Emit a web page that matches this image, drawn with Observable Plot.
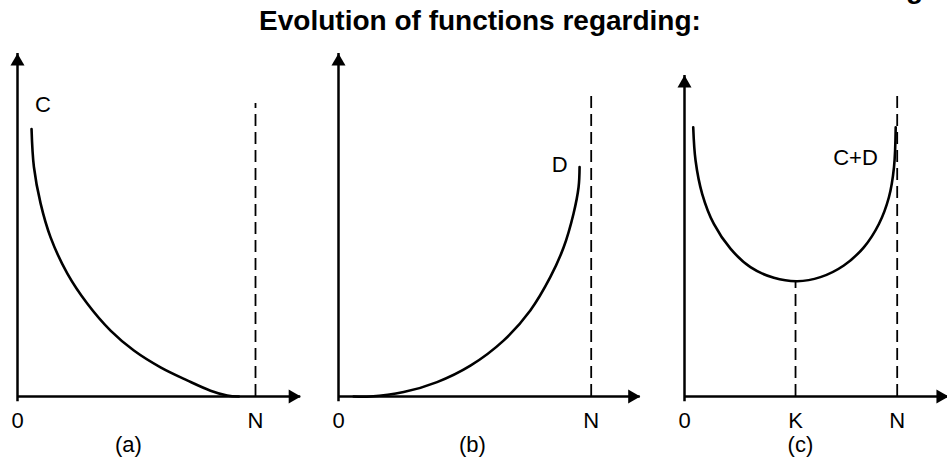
<!DOCTYPE html>
<html>
<head>
<meta charset="utf-8">
<script src="https://cdn.jsdelivr.net/npm/d3@7"></script>
<script src="https://cdn.jsdelivr.net/npm/@observablehq/plot@0.6"></script>
<style>
  body { margin: 0; background: #fff; }
  #wrap { position: relative; width: 947px; height: 457px; overflow: hidden; font-family: "Liberation Sans", Arial, sans-serif; color: #000; }
  .title { position: absolute; left: 0; width: 960px; top: 7px; text-align: center; font-weight: bold; font-size: 28px; line-height: 28px; white-space: nowrap; }
  .frag { position: absolute; left: 906px; top: -25px; font-weight: bold; font-size: 28px; line-height: 28px; }
  .panel { position: absolute; top: 40px; }
  .panel svg { overflow: visible; background: transparent; }
</style>
</head>
<body>
<div id="wrap">
  <div class="title">Evolution of functions regarding:</div>
  <div class="frag">g</div>
</div>
<script>
// ---- Data ----
const captions = ["(a)", "(b)", "(c)"];
const captionX = [4.66, 5.3, 5.45];

// x-axis tick labels per panel
const ticksA = [0, 10], tickLabelsA = ["0", "N"];
const ticksB = [0, 10], tickLabelsB = ["0", "N"];
const ticksC = [0, 5.22, 10], tickLabelsC = ["0", "K", "N"];

// Curve C (panel a)
const cX = [0.59, 0.69, 0.97, 1.39, 2.09, 2.93, 3.91, 4.89, 6.01, 7.13, 8.11, 8.81, 9.30];
const cY = [7.80, 6.69, 5.63, 4.64, 3.59, 2.71, 1.92, 1.34, 0.85, 0.47, 0.17, 0.03, 0.0];
// Curve D (panel b)
const dX = [0.60, 1.26, 2.58, 3.90, 5.22, 6.53, 7.59, 8.38, 8.91, 9.30, 9.50, 9.54];
const dY = [0.0, 0.0, 0.13, 0.42, 0.90, 1.63, 2.51, 3.48, 4.35, 5.33, 6.10, 6.69];
// Curve C+D (panel c)
const cdX = [0.41, 0.52, 0.83, 1.38, 2.16, 3.10, 4.20, 5.30, 6.39, 7.49, 8.43, 9.14, 9.61, 9.85, 9.93];
const cdY = [7.85, 6.88, 5.91, 5.03, 4.31, 3.77, 3.46, 3.36, 3.48, 3.82, 4.35, 5.03, 5.81, 6.69, 7.85];

// Curve labels
const curveLabels = ["C", "D", "C+D"];
const curveLabelX = [1.07, 8.75, 8.04];
const curveLabelY = [8.51, 6.76, 6.96];

// Dashed guide lines: [x, top]
const dashA = [[10, 8.54]];
const dashB = [[10, 8.82]];
const dashC = [[5.22, 3.36], [10, 8.92]];

// Axis extents (x tip, y tip)
const axisA = [11.9, 10];
const axisB = [11.94, 10];
const axisC = [12.41, 9.36];

// ---- Layout ----
const FONT = '"Liberation Sans", Arial, sans-serif';
const H = 417;
const FS = 22;

function zip(xs, ys) { return xs.map((x, i) => ({x, y: ys[i]})); }

function panel(cfg) {
  const tickMap = new Map(cfg.ticks.map((t, i) => [t, cfg.tickLabels[i]]));
  const [xTip, yTip] = cfg.axis;
  const chart = Plot.plot({
    width: cfg.width, height: H,
    marginTop: 13, marginBottom: 61,
    marginLeft: cfg.marginLeft, marginRight: cfg.marginRight,
    x: {domain: [0, 10]},
    y: {domain: [0, 10], axis: null},
    style: {fontFamily: FONT, fontSize: FS + "px", overflow: "visible", background: "transparent"},
    marks: [
      // axes lines
      Plot.ruleY([{y: 0, x1: 0, x2: xTip}], {y: "y", x1: "x1", x2: "x2", stroke: "black", strokeWidth: 2.5}),
      Plot.ruleX([{x: 0, y1: -0.15, y2: yTip}], {x: "x", y1: "y1", y2: "y2", stroke: "black", strokeWidth: 2.5}),
      // arrowheads
      Plot.dot([{x: 0, y: yTip}], {x: "x", y: "y", symbol: "triangle", r: 5.2, fill: "black", stroke: null, dy: 8}),
      Plot.dot([{x: xTip, y: 0}], {x: "x", y: "y", symbol: "triangle", r: 5.2, fill: "black", stroke: null, rotate: 90, dx: -8}),
      // dashed guides
      Plot.ruleX(cfg.dash.map(([x, top]) => ({x, top})), {x: "x", y1: 0, y2: "top", stroke: "black", strokeWidth: 1.8, strokeDasharray: "12,6"}),
      // curve
      Plot.line(cfg.curve, {x: "x", y: "y", curve: "catmull-rom", stroke: "black", strokeWidth: 2.6}),
      // curve label
      Plot.text([cfg.label], {x: "x", y: "y", text: "t", fontSize: FS, fill: "black"}),
      // caption
      Plot.text([cfg.caption], {x: "x", y: "y", text: "t", fontSize: FS, fill: "black"}),
      // x tick labels
      Plot.axisX({ticks: cfg.ticks, tickFormat: d => tickMap.get(d), tickSize: 0, tickPadding: 15.4, fontSize: FS, fill: "black"})
    ]
  });
  const div = document.createElement("div");
  div.className = "panel";
  div.style.left = cfg.left + "px";
  div.appendChild(chart);
  document.getElementById("wrap").appendChild(div);
}

panel({
  left: 0, width: 320, marginLeft: 17, marginRight: 65,
  ticks: ticksA, tickLabels: tickLabelsA, axis: axisA,
  curve: zip(cX, cY), dash: dashA,
  label: {x: curveLabelX[0], y: curveLabelY[0], t: curveLabels[0]},
  caption: {x: captionX[0], y: -1.40, t: captions[0]}
});
panel({
  left: 320, width: 320, marginLeft: 18, marginRight: 49.3,
  ticks: ticksB, tickLabels: tickLabelsB, axis: axisB,
  curve: zip(dX, dY), dash: dashB,
  label: {x: curveLabelX[1], y: curveLabelY[1], t: curveLabels[1]},
  caption: {x: captionX[1], y: -1.40, t: captions[1]}
});
panel({
  left: 640, width: 307, marginLeft: 44, marginRight: 50.3,
  ticks: ticksC, tickLabels: tickLabelsC, axis: axisC,
  curve: zip(cdX, cdY), dash: dashC,
  label: {x: curveLabelX[2], y: curveLabelY[2], t: curveLabels[2]},
  caption: {x: captionX[2], y: -1.40, t: captions[2]}
});
</script>
</body>
</html>
